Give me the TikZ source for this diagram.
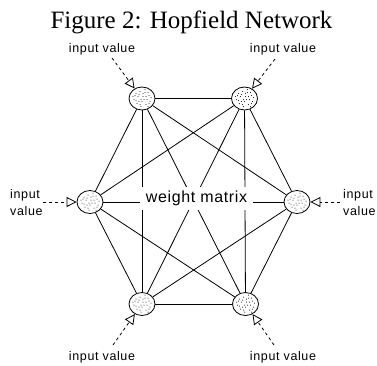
\documentclass[tikz,border=0pt]{standalone}
\usepackage{fontspec}
\setmainfont{Liberation Serif}
\newfontfamily\labelfont[LetterSpace=5]{Liberation Sans}
\newfontfamily\wmfont[LetterSpace=4]{Liberation Sans}
\usetikzlibrary{shapes.geometric,arrows.meta}
\tikzset{
  neuron/.style={ellipse, draw, line width=0.8pt, fill=white,
    minimum width=26pt, minimum height=23pt, inner sep=0pt,
    path picture={
      \foreach \dx/\dy in {-6/5,-2/7,3/6,7/3,-8/-1,-4/2,1/2,5/-1,-5/-5,0/-3,4/-6,8/-3,-1/-8,-7/3,2/-1,6/6,-3/-3,9/1,-9/2,3/9,-2/-6,1/5,-6/-2,6/-8,-3/4,4/2,-1/-1,7/-5}
        {\fill[black] ([shift={(\dx pt,\dy pt)}]path picture bounding box.center) circle (0.5pt);}
    }},
  edge/.style={line width=0.8pt},
  inarrow/.style={line width=0.8pt, dash pattern=on 3pt off 3pt,
    -{Triangle[open,length=10pt,width=10pt,line width=0.8pt]}},
  lab/.style={font=\labelfont\fontsize{12.5}{17}\selectfont, inner sep=0pt},
}
\begin{document}
\begin{tikzpicture}[x=1pt,y=-1pt]
\useasboundingbox (0,0) rectangle (377,365);
% title
\node[anchor=base, inner sep=0pt, font=\fontsize{25}{28}\selectfont] (title) at (191.5,28) {Figure 2: Hopfield Network};
% neurons
\node[neuron] (TL) at (142,98.5) {};
\node[neuron] (TR) at (244.5,98.5) {};
\node[neuron] (L) at (90,202) {};
\node[neuron] (R) at (297,202) {};
\node[neuron] (BL) at (142,304) {};
\node[neuron] (BR) at (245.5,304) {};
% connections (complete graph)
\draw[edge] (TL) -- (TR);
\draw[edge] (BL) -- (BR);
\draw[edge] (TL) -- (L);
\draw[edge] (TR) -- (R);
\draw[edge] (L) -- (BL);
\draw[edge] (R) -- (BR);
\draw[edge] (TL) -- (BL);
\draw[edge] (TR) -- (BR);
\draw[edge] (TL) -- (R);
\draw[edge] (TR) -- (L);
\draw[edge] (BL) -- (R);
\draw[edge] (BR) -- (L);
\draw[edge] (TL) -- (BR);
\draw[edge] (TR) -- (BL);
\draw[edge] (L) -- (R);
% weight matrix label
\node[fill=white, inner xsep=6pt, inner ysep=4.5pt, font=\wmfont\fontsize{16}{18}\selectfont] (wm) at (196.5,198.5) {weight matrix};
% input labels
\node[lab, anchor=base] (tlL) at (102,52) {input value};
\node[lab, anchor=base] (tlR) at (283,52) {input value};
\node[lab, anchor=base] (blL) at (102,360) {input value};
\node[lab, anchor=base] (blR) at (283,360) {input value};
\node[lab, anchor=base west, align=left] (sL) at (10,215) {input\\value};
\node[lab, anchor=base west, align=left] (sR) at (343,215) {input\\value};
% input arrows
\coordinate (aTL) at (112,58);
\coordinate (aTR) at (275,59);
\coordinate (aBL) at (113,345);
\coordinate (aBR) at (274,345);
\coordinate (aL) at (43,202);
\coordinate (aR) at (340,202);
\draw[inarrow] (aTL) -- (TL);
\draw[inarrow] (aTR) -- (TR);
\draw[inarrow] (aBL) -- (BL);
\draw[inarrow] (aBR) -- (BR);
\draw[inarrow] (aL) -- (L);
\draw[inarrow] (aR) -- (R);
\end{tikzpicture}
\end{document}
